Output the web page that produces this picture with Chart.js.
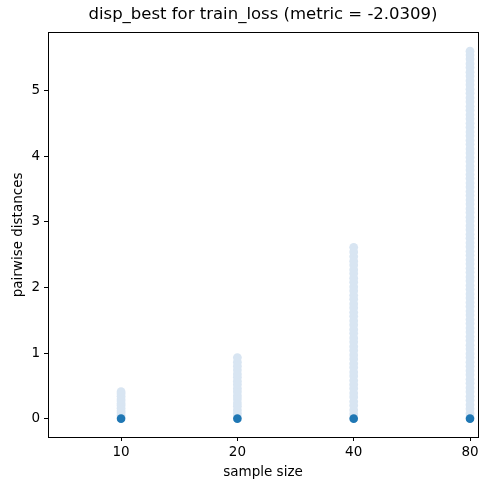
<!DOCTYPE html>
<html>
<head>
<meta charset="utf-8">
<script src="https://cdn.jsdelivr.net/npm/chart.js@4/dist/chart.umd.min.js"></script>
<style>
html,body{margin:0;padding:0;background:#fff;}
#wrap{width:489px;height:490px;}
</style>
</head>
<body>
<div id="wrap"><canvas id="c" width="489" height="490"></canvas></div>
<script>
// ---- data ----
const chartTitle = "disp_best for train_loss (metric = -2.0309)";
const xLabel = "sample size";
const yLabel = "pairwise distances";
const sampleSizes = [10, 20, 40, 80];
const yTicks = [0, 1, 2, 3, 4, 5];
const distances10 = [0.02,0.05,0.09,0.12,0.16,0.2,0.23,0.27,0.3,0.34,0.38,0.41];
const distances20 = [0.03,0.08,0.13,0.19,0.24,0.3,0.35,0.41,0.46,0.52,0.57,0.63,0.68,0.74,0.8,0.86,0.93];
const distances40 = [0.01,0.07,0.13,0.2,0.26,0.33,0.39,0.46,0.52,0.58,0.65,0.71,0.78,0.84,0.91,0.97,1.04,1.1,1.17,1.23,1.3,1.36,1.43,1.49,1.56,1.62,1.69,1.75,1.82,1.88,1.95,2.01,2.08,2.14,2.21,2.27,2.34,2.4,2.47,2.54,2.61];
const distances80 = [0.02,0.08,0.15,0.21,0.28,0.34,0.41,0.47,0.54,0.6,0.67,0.73,0.8,0.86,0.93,0.99,1.06,1.12,1.19,1.25,1.32,1.38,1.45,1.51,1.58,1.64,1.71,1.77,1.84,1.9,1.97,2.03,2.1,2.16,2.23,2.29,2.36,2.42,2.49,2.55,2.62,2.68,2.75,2.81,2.88,2.94,3.01,3.07,3.14,3.2,3.27,3.33,3.4,3.46,3.53,3.59,3.66,3.72,3.79,3.85,3.92,3.98,4.05,4.11,4.18,4.24,4.31,4.37,4.44,4.5,4.57,4.63,4.7,4.76,4.83,4.89,4.96,5.02,5.09,5.15,5.22,5.28,5.35,5.41,5.48,5.54,5.6];
const bestDistances = [0, 0, 0, 0];
const xMin = 6.47, xMax = 83.9;

// ---- build ----
const allDist = [distances10, distances20, distances40, distances80];
const bandPoints = [];
sampleSizes.forEach((s, i) => allDist[i].forEach(v => bandPoints.push({x: s, y: v})));
const bestPoints = sampleSizes.map((s, i) => ({x: s, y: bestDistances[i]}));
const dMax = Math.max(...allDist.flat());
const yMin = -0.05 * dMax, yMax = 1.05 * dMax;

const FONT = "'DejaVu Sans', sans-serif";

// top and right spines (left and bottom come from the axis borders)
const frame = {
  id: 'frame',
  afterDraw(chart) {
    const a = chart.chartArea, ctx = chart.ctx;
    ctx.save();
    ctx.fillStyle = '#000';
    const l = Math.round(a.left), t = Math.round(a.top);
    const r = Math.round(a.right), b = Math.round(a.bottom);
    ctx.fillRect(l, t - 1, r - l + 1, 1);
    ctx.fillRect(r, t - 1, 1, b - t + 2);
    ctx.restore();
  }
};

new Chart(document.getElementById('c'), {
  type: 'scatter',
  data: {
    datasets: [
      { label: 'best', data: bestPoints, backgroundColor: '#1f77b4',
        borderWidth: 0, pointRadius: 4.3, pointHoverRadius: 4.3 },
      { label: 'all', data: bandPoints, backgroundColor: '#d8e5f2',
        borderWidth: 0, pointRadius: 4.4, pointHoverRadius: 4.4 }
    ]
  },
  options: {
    responsive: false,
    animation: false,
    layout: { padding: { left: 0, right: 11, top: 0, bottom: 0 } },
    plugins: {
      legend: { display: false },
      tooltip: { enabled: false },
      title: { display: true, text: chartTitle, color: '#000', fullSize: false,
        font: { family: FONT, size: 16.5, weight: 'normal' },
        padding: { top: 5, bottom: 8 } }
    },
    scales: {
      x: {
        type: 'logarithmic', min: xMin, max: xMax,
        afterBuildTicks(scale) { scale.ticks = sampleSizes.map(v => ({value: v})); },
        afterFit(scale) { scale.height = 53; },
        grid: { drawOnChartArea: false, tickLength: 4, tickWidth: 1, tickColor: '#000', color: '#000' },
        border: { display: true, color: '#000', width: 1 },
        ticks: { color: '#000', font: { family: FONT, size: 13.5 }, padding: 3,
          autoSkip: false, maxRotation: 0, callback: v => String(v) },
        title: { display: true, text: xLabel, color: '#000',
          font: { family: FONT, size: 13.5 }, padding: { top: 4, bottom: 9 } }
      },
      y: {
        min: yMin, max: yMax,
        afterBuildTicks(scale) { scale.ticks = yTicks.map(v => ({value: v})); },
        afterFit(scale) { scale.width = 48; },
        grid: { drawOnChartArea: false, tickLength: 4, tickWidth: 1, tickColor: '#000', color: '#000' },
        border: { display: true, color: '#000', width: 1 },
        ticks: { color: '#000', font: { family: FONT, size: 13.5 }, padding: 4,
          callback: v => String(v) },
        title: { display: true, text: yLabel, color: '#000',
          font: { family: FONT, size: 13.5 }, padding: { top: 10, bottom: 4 } }
      }
    }
  },
  plugins: [frame]
});
</script>
</body>
</html>
